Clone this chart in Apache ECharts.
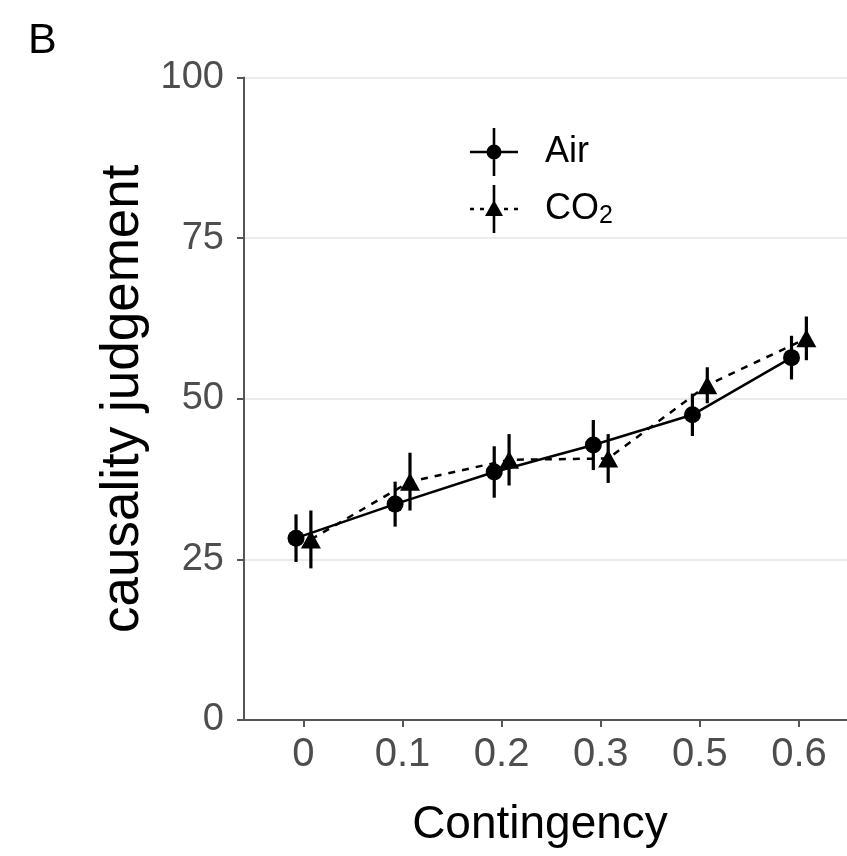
<!DOCTYPE html>
<html>
<head>
<meta charset="utf-8">
<script src="https://cdn.jsdelivr.net/npm/echarts@6/dist/echarts.min.js"></script>
<style>
  html, body { margin: 0; padding: 0; background: #fff; }
  #chart { width: 847px; height: 856px; }
</style>
</head>
<body>
<div id="chart"></div>
<script>
const contingency = ['0', '0.1', '0.2', '0.3', '0.5', '0.6'];
const airMean = [28.3, 33.6, 38.6, 42.8, 47.5, 56.4];
const airErr = [3.7, 3.5, 4.0, 3.9, 3.3, 3.4];
const co2Mean = [28.1, 37.1, 40.5, 40.7, 52.1, 59.4];
const co2Err = [4.5, 4.5, 4.0, 3.8, 2.8, 3.4];
const yTicks = [0, 25, 50, 75, 100];
const dodge = 0.075;

const chart = echarts.init(document.getElementById('chart'));

function pts(mean, off) {
  return mean.map((m, i) => [i + off, m]);
}
function bars(mean, err, off) {
  return mean.map((m, i) => [i + off, m - err[i], m + err[i]]);
}
function errorBar(params, api) {
  const a = api.coord([api.value(0), api.value(1)]);
  const b = api.coord([api.value(0), api.value(2)]);
  return {
    type: 'line',
    shape: {x1: a[0], y1: a[1], x2: b[0], y2: b[1]},
    style: {stroke: '#000', lineWidth: 3.2}
  };
}

// legend keys: point + vertical error bar + (solid / dotted) line
const airIcon = 'path://M0,22.7L48,22.7L48,25.3L0,25.3Z M22.7,0L25.3,0L25.3,48L22.7,48Z M16.5,24A7.5,7.5 0 1,1 31.5,24A7.5,7.5 0 1,1 16.5,24Z';
const co2Icon = 'path://M0,22.7L4,22.7L4,25.3L0,25.3Z M10,22.7L14,22.7L14,25.3L10,25.3Z M34,22.7L38,22.7L38,25.3L34,25.3Z M44,22.7L48,22.7L48,25.3L44,25.3Z M22.7,0L25.3,0L25.3,48L22.7,48Z M15,31L24,15L33,31Z';

const option = {
  backgroundColor: '#fff',
  animation: false,
  title: {
    text: 'B',
    left: 23,
    top: 15,
    textStyle: {fontFamily: 'Liberation Sans', fontSize: 43, fontWeight: 'normal', color: '#000'}
  },
  legend: {
    left: 465,
    top: 123,
    orient: 'vertical',
    itemWidth: 48,
    itemHeight: 48,
    itemGap: 9,
    data: [{name: 'Air', icon: airIcon}, {name: 'CO2', icon: co2Icon}],
    formatter: name => name === 'CO2' ? 'CO{s|2}' : name,
    textStyle: {
      fontFamily: 'Liberation Sans',
      fontSize: 36,
      color: '#000',
      padding: [0, 0, 0, 22],
      rich: {
        s: {fontFamily: 'Liberation Sans', fontSize: 25, color: '#000', padding: [14, 0, 0, 0]}
      }
    }
  },
  grid: {left: 244, right: 0, top: 77.5, bottom: 136},
  xAxis: {
    type: 'value',
    min: -0.6,
    max: 5.485,
    name: 'Contingency',
    nameLocation: 'middle',
    nameGap: 82,
    nameTextStyle: {fontFamily: 'Liberation Sans', fontSize: 46, color: '#000', padding: [0, 11, 0, 0]},
    axisLine: {lineStyle: {color: '#555', width: 2}},
    axisTick: {length: 7, lineStyle: {color: '#555', width: 2}, customValues: [0, 1, 2, 3, 4, 5]},
    axisLabel: {
      customValues: [0, 1, 2, 3, 4, 5],
      formatter: v => contingency[Math.round(v)],
      fontFamily: 'Liberation Sans',
      fontSize: 40,
      color: '#4d4d4d',
      margin: 15
    },
    splitLine: {show: false}
  },
  yAxis: {
    type: 'value',
    min: yTicks[0],
    max: yTicks[yTicks.length - 1],
    interval: 25,
    name: 'causality judgement',
    nameLocation: 'middle',
    nameGap: 94,
    nameTextStyle: {fontFamily: 'Liberation Sans', fontSize: 53, color: '#000'},
    axisLine: {show: true, onZero: false, lineStyle: {color: '#555', width: 2}},
    axisTick: {show: true, length: 7, lineStyle: {color: '#555', width: 2}},
    axisLabel: {fontFamily: 'Liberation Sans', fontSize: 38, color: '#4d4d4d', margin: 20},
    splitLine: {show: true, lineStyle: {color: '#ebebeb', width: 2}}
  },
  series: [
    {
      name: 'Air',
      type: 'line',
      data: pts(airMean, -dodge),
      symbol: 'circle',
      symbolSize: 17,
      itemStyle: {color: '#000'},
      lineStyle: {color: '#000', width: 2.5, type: 'solid'},
      z: 3
    },
    {
      name: 'Air',
      type: 'custom',
      renderItem: errorBar,
      data: bars(airMean, airErr, -dodge),
      itemStyle: {color: '#000'},
      z: 4
    },
    {
      name: 'CO2',
      type: 'line',
      data: pts(co2Mean, dodge),
      symbol: 'triangle',
      symbolSize: [20, 18],
      itemStyle: {color: '#000'},
      lineStyle: {color: '#000', width: 2.5, type: [7, 7]},
      z: 3
    },
    {
      name: 'CO2',
      type: 'custom',
      renderItem: errorBar,
      data: bars(co2Mean, co2Err, dodge),
      itemStyle: {color: '#000'},
      z: 4
    }
  ]
};

chart.setOption(option);
</script>
</body>
</html>
